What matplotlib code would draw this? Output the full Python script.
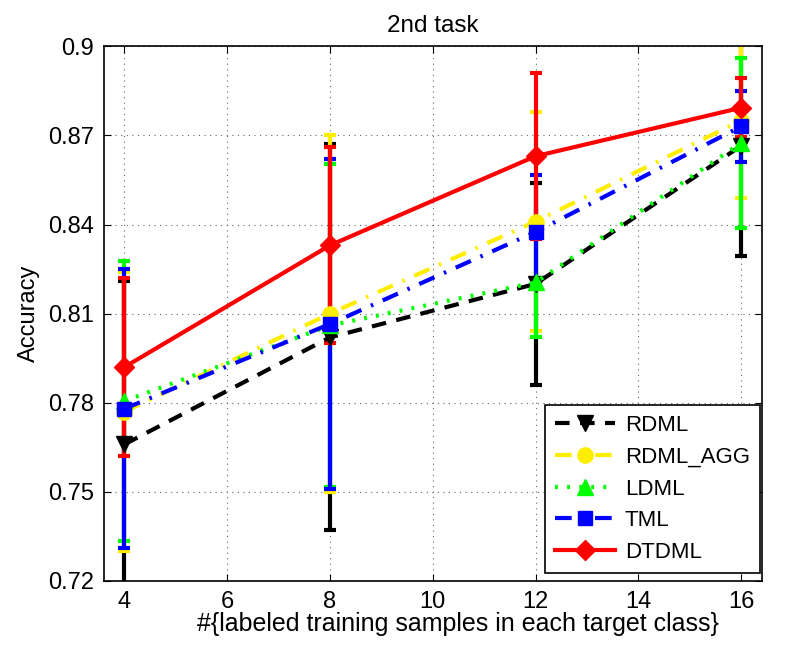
import numpy as np
import matplotlib
matplotlib.use("Agg")
import matplotlib.pyplot as plt

plt.rcParams['font.family'] = ['Liberation Sans', 'DejaVu Sans']

samples = [4, 8, 12, 16]
names = ['RDML', 'RDML_AGG', 'LDML', 'TML', 'DTDML']
means = {
    'RDML':     [0.766, 0.802, 0.820, 0.8665],
    'RDML_AGG': [0.777, 0.810, 0.841, 0.875],
    'LDML':     [0.7806, 0.806, 0.8205, 0.8675],
    'TML':      [0.778, 0.8065, 0.8375, 0.873],
    'DTDML':    [0.792, 0.833, 0.863, 0.8793],
}
errs = {
    'RDML':     [0.055, 0.065, 0.034, 0.037],
    'RDML_AGG': [0.047, 0.060, 0.037, 0.026],
    'LDML':     [0.047, 0.0545, 0.0185, 0.0287],
    'TML':      [0.047, 0.0555, 0.019, 0.012],
    'DTDML':    [0.030, 0.033, 0.028, 0.010],
}
colors = {'RDML': 'black', 'RDML_AGG': '#ffee00', 'LDML': '#00ff00',
          'TML': '#0000ff', 'DTDML': '#ff0000'}
styles = {'RDML': (0, (3.5, 2.5)), 'RDML_AGG': (0, (4, 2.5, 0.6, 2.5)),
          'LDML': (0, (0.7, 2.2)), 'TML': (0, (4, 2.5, 0.6, 2.5)), 'DTDML': '-'}
markers = {'RDML': 'v', 'RDML_AGG': 'o', 'LDML': '^', 'TML': 's', 'DTDML': 'D'}
msizes = {'RDML': 12, 'RDML_AGG': 11, 'LDML': 12, 'TML': 10, 'DTDML': 10}

fig = plt.figure(figsize=(8.12, 6.52), dpi=100)
ax = fig.add_axes([0.128, 0.109, 0.810, 0.820])

handles = []
for n in names:
    c = ax.errorbar(samples, means[n], yerr=errs[n], color=colors[n],
                    linestyle=styles[n], linewidth=3, marker=markers[n],
                    markersize=msizes[n], ecolor=colors[n], elinewidth=3,
                    capsize=4.5, capthick=3, label=n)
    handles.append(c.lines[0])

ax.set_xlim(3.6, 16.4)
ax.set_ylim(0.72, 0.9)
ax.set_xticks([4, 6, 8, 10, 12, 14, 16])
ax.set_yticks([0.72, 0.75, 0.78, 0.81, 0.84, 0.87, 0.9])
ax.set_yticklabels(['0.72', '0.75', '0.78', '0.81', '0.84', '0.87', '0.9'])
ax.tick_params(direction='in', top=True, right=True, labelsize=17, length=5, pad=7)
ax.grid(True, linestyle=(0, (1, 4)), color='#666666', linewidth=0.8)
for s in ax.spines.values():
    s.set_linewidth(1.2)

ax.set_title('2nd task', fontsize=17.5, pad=10)
ax.set_xlabel('#{labeled training samples in each target class}', fontsize=18, labelpad=0)
ax.xaxis.set_label_coords(0.538, -0.058)
ax.set_ylabel('Accuracy', fontsize=17, labelpad=6)

leg = ax.legend(handles, names, loc='lower right', bbox_to_anchor=(0.997, 0.015),
                borderaxespad=0, fontsize=16, handlelength=2.7, handletextpad=0.45,
                fancybox=False, framealpha=1, edgecolor='black',
                labelspacing=0.48, borderpad=0.45)
leg.get_frame().set_linewidth(1.2)

fig.savefig('out.png', dpi=100)
